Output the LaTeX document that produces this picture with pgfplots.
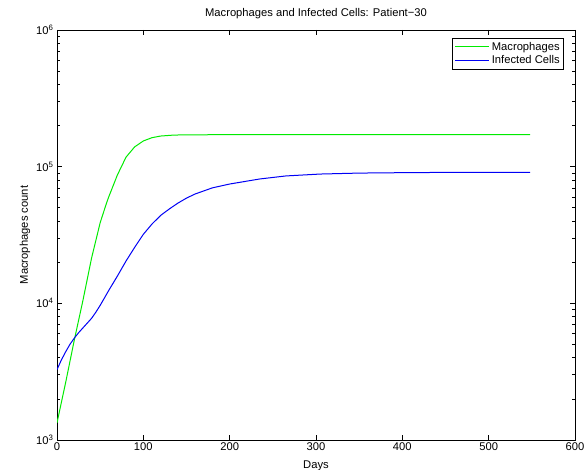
\documentclass[border=0pt]{standalone}
\usepackage{pgfplots}
\pgfplotsset{compat=1.18}
\usepackage{fontspec}
\setmainfont{Liberation Sans}
\begin{document}
\begin{tikzpicture}
\begin{axis}[
  scale only axis,
  width=518pt, height=410pt,
  at={(0,0)}, anchor=south west,
  ymode=log,
  xmin=0, xmax=600, ymin=1e3, ymax=1e6,
  xtick={0,100,200,300,400,500,600},
  ytick={1e3,1e4,1e5,1e6},
  yticklabels={10\textsuperscript{3},10\textsuperscript{4},10\textsuperscript{5},10\textsuperscript{6}},
  /pgf/number format/assume math mode=true,
  tick align=inside,
  major tick length=5pt,
  minor tick length=3pt,
  tick style={black, line width=0.6pt},
  axis line style={line width=0.9pt},
  ticklabel style={font=\fontsize{11.2}{13}\selectfont},
  xticklabel style={yshift=1pt},
  xlabel={Days}, ylabel={Macrophages count},
  label style={font=\fontsize{11.2}{13}\selectfont},
  xlabel style={at={(axis description cs:0.5,-0.064)}, anchor=center},
  ylabel style={at={(axis description cs:-0.062,0.5)}, anchor=center},
  every axis title shift=0pt,
  title={Macrophages and Infected Cells: Patient\textminus30},
  title style={font=\fontsize{11.2}{13}\selectfont, at={(axis description cs:0.5,1.039)}, anchor=center},
  legend style={at={(0.979,0.981)}, anchor=north east, font=\fontsize{11.2}{13}\selectfont, draw=black, line width=0.8pt, inner sep=2pt, row sep=0pt},
  legend cell align=left,
  legend image code/.code={\draw[#1, line width=1pt] (0pt,0pt) -- (34pt,0pt);},
]
\addplot[color={rgb,255:red,0;green,235;blue,0}, line width=1pt] table[x=d, y expr=10^\thisrow{l}] {
d l
0 3.126
10 3.42
20 3.73
30 4.02
40 4.33
50 4.59
57.5 4.736
60 4.78
70 4.94
80 5.07
90 5.145
100 5.188
110 5.212
120 5.224
135 5.231
150 5.233
200 5.234
300 5.234
400 5.234
548 5.234
};
\addlegendentry{Macrophages}
\addplot[color={rgb,255:red,0;green,0;blue,245}, line width=1pt] table[x=d, y expr=10^\thisrow{l}] {
d l
0 3.515
5 3.585
10 3.645
15 3.70
20 3.745
25 3.785
30 3.82
35 3.855
40 3.89
45 3.935
50 3.985
55 4.04
60 4.095
70 4.20
80 4.31
90 4.41
100 4.505
110 4.58
120 4.643
130 4.69
140 4.733
150 4.77
160 4.80
180 4.845
200 4.873
235 4.91
265 4.932
305 4.946
350 4.953
400 4.956
450 4.958
548 4.959
};
\addlegendentry{Infected Cells}
\end{axis}
\pgfresetboundingbox
\path[use as bounding box] (-57pt,-30pt) rectangle (528pt,440pt);
\end{tikzpicture}
\end{document}
